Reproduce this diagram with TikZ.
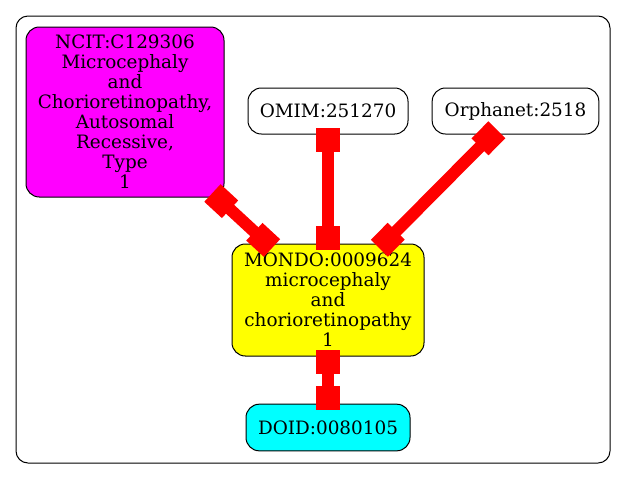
\documentclass[tikz,border=0pt]{standalone}
\usepackage{fontspec}
\setmainfont{DejaVu Serif}
\usepackage{tikz}
\usetikzlibrary{arrows.meta, positioning}
\definecolor{ncitpink}{RGB}{255,0,255}
\definecolor{mondoyellow}{RGB}{255,255,0}
\definecolor{doidcyan}{RGB}{0,255,255}
\definecolor{linkred}{RGB}{255,0,0}

\begin{document}
\begin{tikzpicture}[x=0.75pt, y=-0.75pt,
        term/.style={draw, rectangle, rounded corners=10pt, align=center, inner sep=0pt, line width=0.75pt,
            font=\fontsize{13.8}{15}\selectfont},
        link/.style={draw=linkred, line width=9pt,
            {Square[length=18pt,width=18pt]}-{Square[length=18pt,width=18pt]},
            shorten <=-5pt, shorten >=-5pt}]
        \useasboundingbox (0,0) rectangle (627,479);
        \draw[rounded corners=9pt, line width=0.75pt] (16,16) rectangle (610,463);

        \node (ncit) [term, fill=ncitpink, minimum width=148.5pt, minimum height=127.5pt] at (125,112)
            {NCIT:C129306\\Microcephaly\\and\\Chorioretinopathy,\\Autosomal\\Recessive,\\Type\\1};
        \node (omim) [term, minimum width=120pt, minimum height=34.5pt] at (328,111) {OMIM:251270};
        \node (orpha) [term, minimum width=125pt, minimum height=34.5pt] at (515.5,111) {Orphanet:2518};
        \node (mondo) [term, fill=mondoyellow, minimum width=144pt, minimum height=84pt] at (328,300)
            {MONDO:0009624\\microcephaly\\and\\chorioretinopathy\\1};
        \node (doid) [term, fill=doidcyan, minimum width=123pt, minimum height=35pt] at (328,427.5) {DOID:0080105};

        \draw[link] (ncit) -- (mondo);
        \draw[link] (omim) -- (mondo);
        \draw[link] (orpha) -- (mondo);
        \draw[link] (mondo) -- (doid);
    \end{tikzpicture}
\end{document}
